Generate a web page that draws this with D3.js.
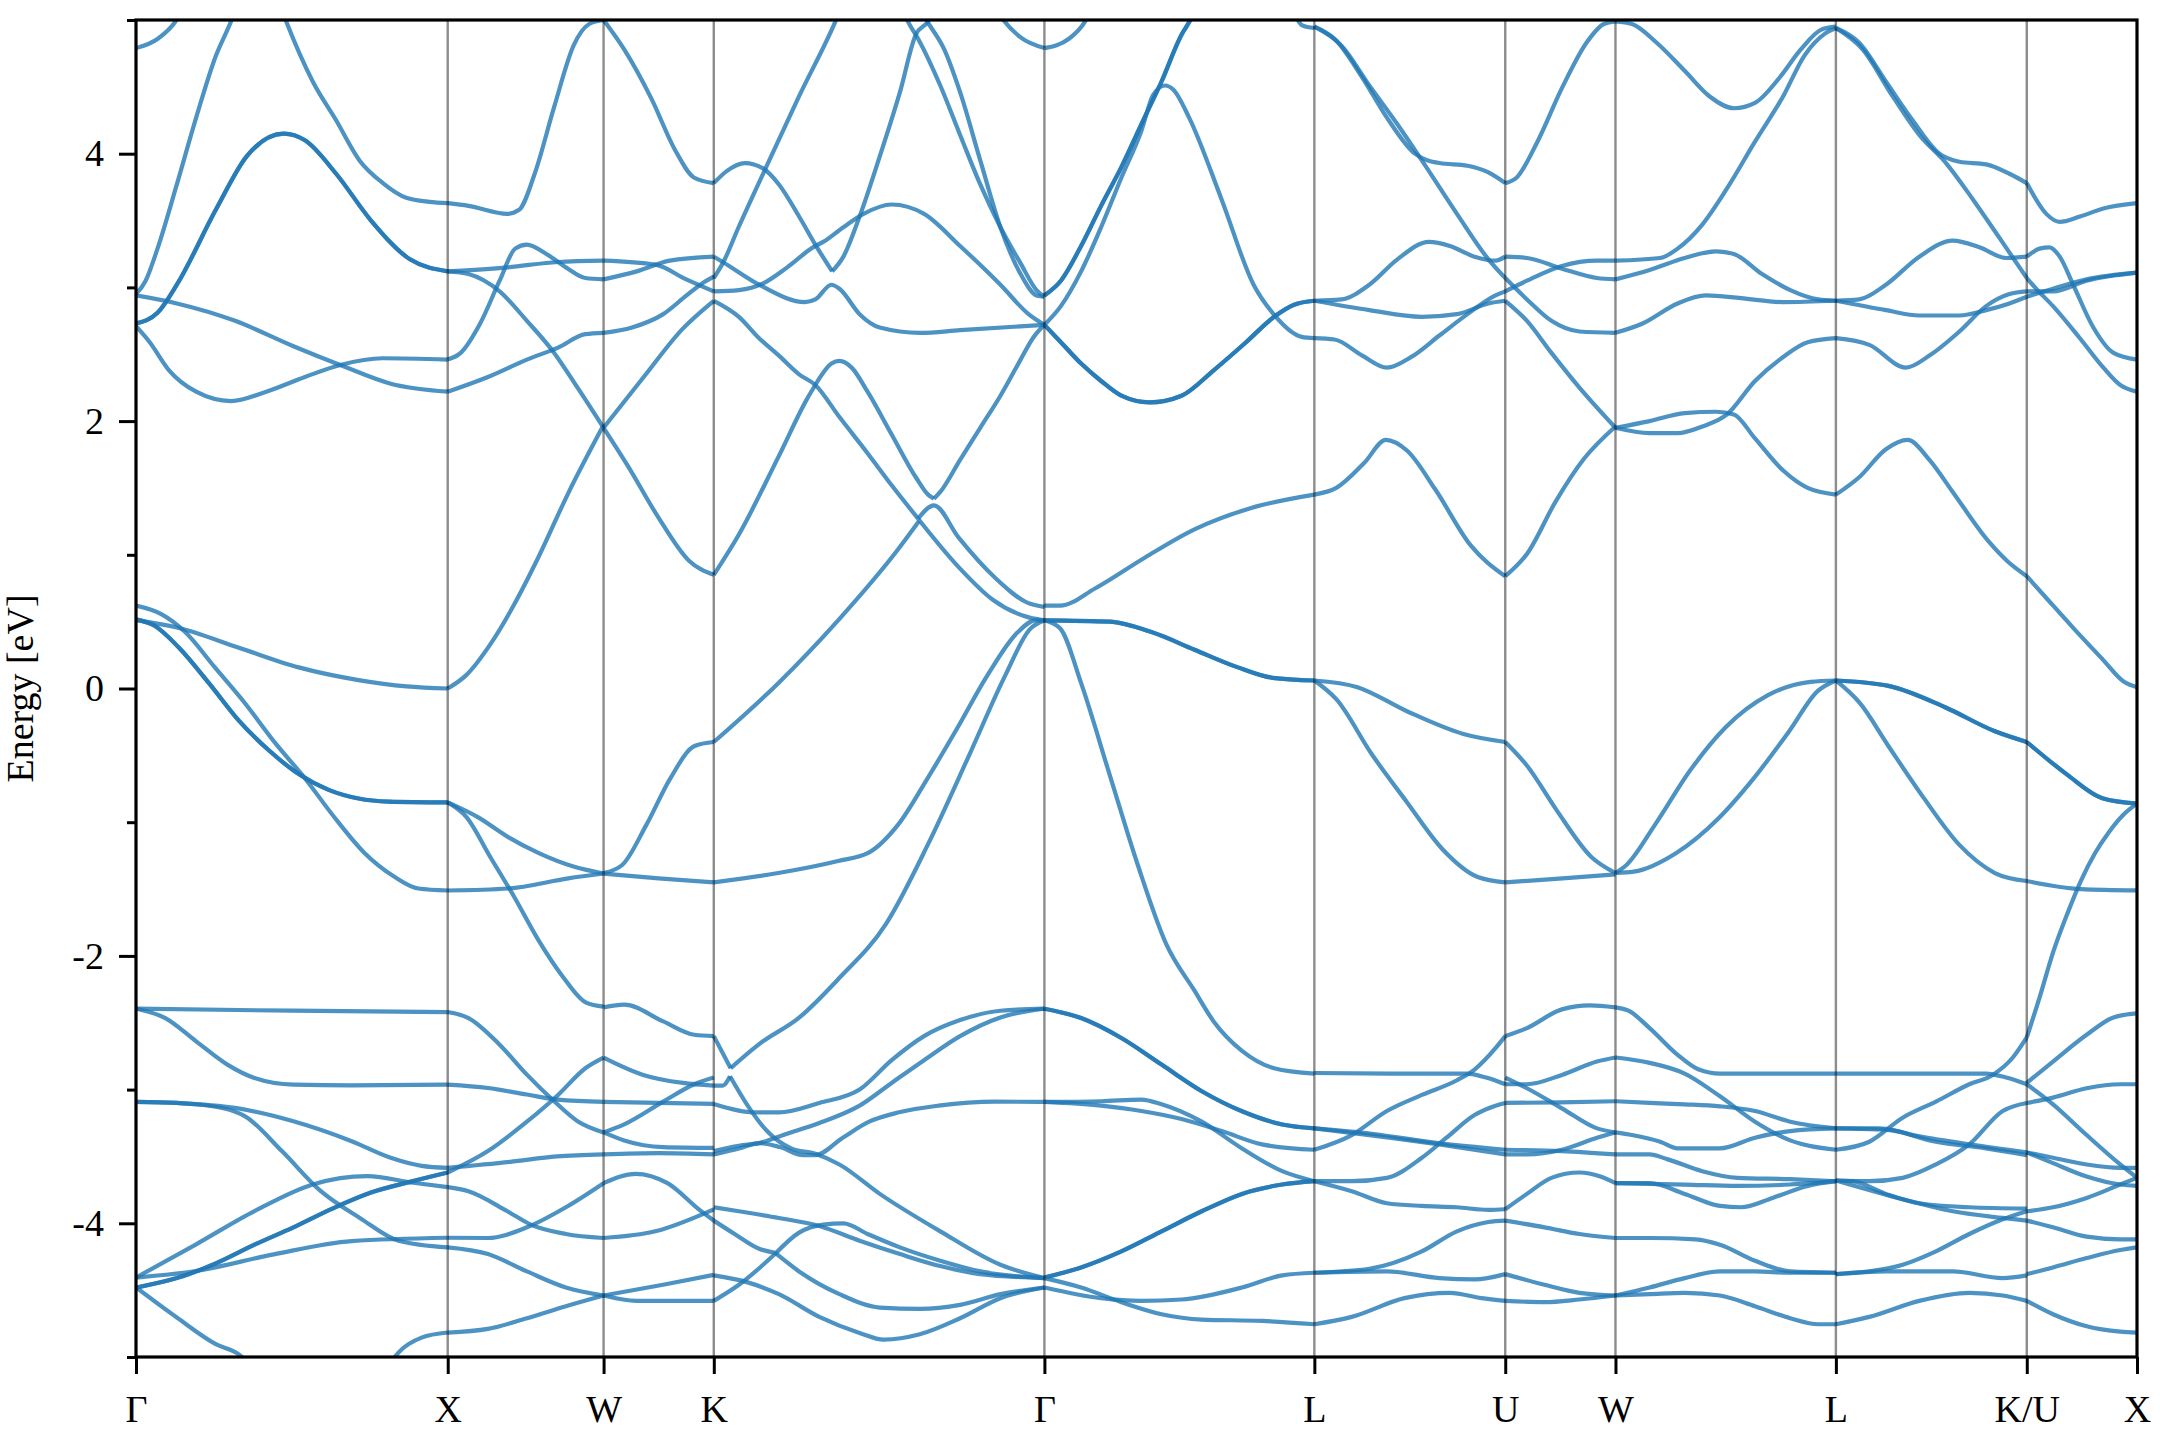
<!DOCTYPE html>
<html><head><meta charset="utf-8">
<script src="https://cdn.jsdelivr.net/npm/d3@7"></script>
<style>body{margin:0;background:#fff} svg{display:block}</style>
</head><body>
<svg id="chart" width="2160" height="1440"></svg>
<script>
// High-symmetry path (fcc), cumulative k distance
const kLabels = ["Γ","X","W","K","Γ","L","U","W","L","K/U","X"];
const kDist = [0, 1, 1.5, 1.8536, 2.9142, 3.7802, 4.3926, 4.7462, 5.4533, 6.0657, 6.4193];
const yMajorTicks = [-4, -2, 0, 2, 4];
const yMinorTicks = [-5, -3, -1, 1, 3, 5];

// Each band: [t (fraction along segment), Energy eV]
// ---- Γ → X ----
const gxHump = [[0,2.73],[0.069,2.81],[0.131,3.02],[0.256,3.58],[0.355,3.98],[0.474,4.15],[0.542,4.10],[0.642,3.85],[0.754,3.50],[0.879,3.21],[1,3.12]];
const gxM2 = [[0,0.518],[0.061,0.468],[0.138,0.305],[0.234,0.04],[0.33,-0.241],[0.426,-0.462],[0.522,-0.64],[0.618,-0.758],[0.714,-0.823],[0.81,-0.846],[1,-0.852]];
const gxL5 = [[0,-4.481],[0.131,-4.41],[0.256,-4.30],[0.38,-4.16],[0.505,-4.03],[0.63,-3.89],[0.754,-3.77],[0.879,-3.69],[1,-3.62]];
const bandsGX = [
  [[0,4.79],[0.07,4.86],[0.13,5.0],[0.2,5.35]],
  [[0,2.95],[0.031,3.05],[0.069,3.29],[0.131,3.77],[0.193,4.27],[0.256,4.73],[0.305,4.99],[0.343,5.23]],
  [[0.443,5.23],[0.48,5.0],[0.567,4.54],[0.642,4.25],[0.717,3.95],[0.792,3.78],[0.867,3.67],[0.941,3.64],[1,3.63]],
  gxHump, gxHump,
  [[0,2.94],[0.131,2.88],[0.318,2.75],[0.505,2.56],[0.655,2.42],[0.817,2.28],[1,2.22]],
  [[0,2.71],[0.044,2.59],[0.106,2.38],[0.193,2.22],[0.305,2.15],[0.418,2.22],[0.542,2.33],[0.655,2.42],[0.792,2.47],[1,2.46]],
  [[0,0.62],[0.081,0.556],[0.157,0.424],[0.253,0.158],[0.349,-0.108],[0.445,-0.403],[0.541,-0.669],[0.637,-0.965],[0.733,-1.23],[0.829,-1.408],[0.906,-1.496],[1,-1.511]],
  gxM2, gxM2,
  [[0,0.512],[0.138,0.453],[0.33,0.305],[0.522,0.158],[0.714,0.063],[0.868,0.016],[1,0.0]],
  [[0,-2.395],[0.5,-2.41],[1,-2.42]],
  [[0,-2.395],[0.094,-2.465],[0.193,-2.639],[0.293,-2.813],[0.38,-2.913],[0.505,-2.963],[0.692,-2.968],[1,-2.963]],
  [[0,-3.092],[0.131,-3.10],[0.318,-3.137],[0.505,-3.237],[0.692,-3.386],[0.817,-3.51],[0.916,-3.57],[1,-3.585]],
  [[0,-3.092],[0.131,-3.10],[0.28,-3.14],[0.35,-3.20],[0.468,-3.46],[0.593,-3.76],[0.718,-3.96],[0.842,-4.13],[1,-4.18]],
  [[0,-4.406],[0.193,-4.157],[0.38,-3.909],[0.567,-3.709],[0.742,-3.647],[0.89,-3.697],[1,-3.73]],
  gxL5, gxL5,
  [[0,-4.406],[0.193,-4.357],[0.442,-4.232],[0.692,-4.133],[1,-4.108]],
  [[0,-4.48],[0.131,-4.705],[0.256,-4.904],[0.33,-4.98],[0.4,-5.15]],
  [[0.8,-5.1],[0.842,-4.967],[0.916,-4.855],[1,-4.817]]
];
// ---- X → W ----
const bandsXW = [
  [[0,3.63],[0.133,3.61],[0.383,3.55],[0.458,3.58],[0.558,3.85],[0.683,4.35],[0.808,4.81],[0.908,4.97],[1,5.0]],
  [[0,3.12],[0.383,3.15],[0.708,3.19],[1,3.2]],
  [[0,3.12],[0.133,3.10],[0.333,2.97],[0.508,2.75],[0.683,2.51],[0.833,2.25],[1,1.95]],
  [[0,2.46],[0.083,2.51],[0.208,2.73],[0.333,3.05],[0.433,3.29],[0.508,3.32],[0.633,3.25],[0.758,3.15],[0.883,3.07],[1,3.06]],
  [[0,2.22],[0.258,2.33],[0.508,2.46],[0.708,2.55],[0.883,2.65],[1,2.66]],
  [[0,0.0],[0.119,0.10],[0.273,0.33],[0.427,0.63],[0.581,0.98],[0.773,1.46],[1,1.97]],
  [[0,-0.852],[0.196,-0.964],[0.388,-1.112],[0.581,-1.23],[0.812,-1.334],[1,-1.384]],
  [[0,-0.852],[0.119,-0.96],[0.273,-1.26],[0.427,-1.56],[0.581,-1.88],[0.735,-2.15],[0.888,-2.35],[1,-2.38]],
  [[0,-1.511],[0.388,-1.496],[0.773,-1.42],[1,-1.384]],
  [[0,-2.42],[0.133,-2.465],[0.333,-2.664],[0.508,-2.888],[0.683,-3.087],[0.833,-3.236],[1,-3.32]],
  [[0,-2.963],[0.258,-2.988],[0.508,-3.037],[0.708,-3.075],[1,-3.092]],
  [[0,-3.62],[0.258,-3.46],[0.508,-3.24],[0.708,-3.04],[0.883,-2.84],[1,-2.76]],
  [[0,-3.73],[0.133,-3.76],[0.383,-3.91],[0.533,-4.01],[0.758,-4.08],[1,-4.11]],
  [[0,-3.585],[0.4,-3.54],[0.7,-3.50],[1,-3.485]],
  [[0,-4.108],[0.258,-4.11],[0.508,-4.03],[0.758,-3.88],[1,-3.70]],
  [[0,-4.18],[0.258,-4.23],[0.508,-4.36],[0.758,-4.48],[1,-4.54]],
  [[0,-4.817],[0.258,-4.79],[0.508,-4.71],[0.758,-4.62],[1,-4.54]]
];
// ---- W → K ----
const bandsWK = [
  [[0,5.0],[0.187,4.78],[0.435,4.41],[0.647,4.03],[0.823,3.82],[1,3.78]],
  [[0,3.2],[0.47,3.17],[0.75,3.06],[1,2.97]],
  [[0,3.06],[0.3,3.12],[0.6,3.20],[1,3.23]],
  [[0,2.66],[0.258,2.70],[0.541,2.80],[0.753,2.94],[0.894,3.03],[1,3.08]],
  [[0,1.95],[0.364,2.33],[0.717,2.69],[1,2.90]],
  [[0,1.95],[0.224,1.66],[0.497,1.28],[0.77,0.96],[1,0.85]],
  [[0,-1.38],[0.169,-1.32],[0.388,-1.02],[0.607,-0.67],[0.825,-0.43],[1,-0.40]],
  [[0,-1.384],[0.5,-1.42],[1,-1.45]],
  [[0,-2.385],[0.187,-2.365],[0.541,-2.49],[0.823,-2.59],[1,-2.60]],
  [[0,-2.76],[0.36,-2.89],[0.72,-2.95],[1,-2.97]],
  [[0,-3.092],[0.5,-3.10],[1,-3.107]],
  [[0,-3.32],[0.187,-3.26],[0.541,-3.09],[0.823,-2.96],[1,-2.91]],
  [[0,-3.32],[0.187,-3.38],[0.541,-3.43],[1,-3.436]],
  [[0,-3.485],[0.5,-3.475],[1,-3.485]],
  [[0,-3.70],[0.29,-3.63],[0.58,-3.70],[0.87,-3.90],[1,-3.98]],
  [[0,-4.11],[0.47,-4.06],[1,-3.896]],
  [[0,-4.54],[0.54,-4.46],[1,-4.386]],
  [[0,-4.54],[0.3,-4.58],[1,-4.58]]
];
// ---- K → Γ ----
const bandsKG = [
  [[0,3.07],[0.027,3.18],[0.075,3.45],[0.149,3.85],[0.258,4.43],[0.368,4.99],[0.4,5.18]],
  [[0,3.78],[0.039,3.87],[0.094,3.93],[0.149,3.89],[0.197,3.77],[0.258,3.53],[0.307,3.32],[0.358,3.12]],
  [[0.358,3.12],[0.392,3.23],[0.441,3.53],[0.502,3.98],[0.563,4.46],[0.611,4.89],[0.648,4.99],[0.67,5.1]],
  [[0.62,5.1],[0.648,4.98],[0.697,4.78],[0.745,4.46],[0.806,3.95],[0.867,3.45],[0.928,3.10],[0.976,2.94],[1,2.93]],
  [[0.56,5.15],[0.587,4.99],[0.618,4.86],[0.685,4.51],[0.745,4.14],[0.806,3.77],[0.867,3.45],[0.928,3.18],[0.976,2.98],[1,2.93]],
  [[0,2.97],[0.076,2.98],[0.149,3.03],[0.222,3.15],[0.307,3.31],[0.331,3.34],[0.392,3.45],[0.453,3.55],[0.538,3.62],[0.636,3.55],[0.745,3.31],[0.867,3.02],[0.952,2.80],[1,2.72]],
  [[0,3.23],[0.027,3.19],[0.137,3.02],[0.276,2.89],[0.307,2.91],[0.356,3.02],[0.38,2.99],[0.441,2.80],[0.502,2.70],[0.624,2.66],[0.745,2.68],[1,2.72]],
  [[0.85,5.1],[0.879,4.99],[0.928,4.87],[1,4.79]],
  [[0,0.85],[0.0755,1.15],[0.197,1.74],[0.283,2.17],[0.307,2.27]],
  [[0.307,2.27],[0.356,2.43],[0.38,2.45],[0.417,2.40],[0.465,2.22],[0.538,1.90],[0.611,1.58],[0.648,1.45],[0.666,1.42]],
  [[0.666,1.42],[0.685,1.47],[0.745,1.71],[0.806,1.95],[0.867,2.19],[0.928,2.46],[0.965,2.62],[1,2.72]],
  [[0,2.90],[0.076,2.78],[0.137,2.62],[0.197,2.49],[0.258,2.35],[0.307,2.27],[0.38,2.03],[0.465,1.76],[0.538,1.52],[0.618,1.27]],
  [[0,-0.40],[0.195,0.04],[0.376,0.51],[0.557,1.04],[0.62,1.25]],
  [[0.618,1.27],[0.74,0.91],[0.846,0.66],[0.955,0.53],[1,0.51]],
  [[0.618,1.27],[0.666,1.37],[0.74,1.13],[0.85,0.83],[0.95,0.64],[1,0.61]],
  [[0,-1.45],[0.195,-1.38],[0.376,-1.29],[0.467,-1.23],[0.557,-1.02],[0.647,-0.67],[0.738,-0.29],[0.828,0.10],[0.919,0.42],[0.973,0.51],[1,0.51]],
  [[0,-2.60],[0.051,-2.84]],
  [[0.051,-2.84],[0.137,-2.66],[0.259,-2.46],[0.376,-2.175],[0.521,-1.76],[0.647,-1.17],[0.774,-0.49],[0.882,0.10],[0.955,0.44],[1,0.51]],
  [[0,-2.97],[0.027,-2.97],[0.049,-2.90]],
  [[0.049,-2.90],[0.1,-3.11],[0.161,-3.31],[0.234,-3.44],[0.307,-3.48],[0.38,-3.56],[0.502,-3.78],[0.685,-4.06],[0.867,-4.31],[1,-4.41]],
  [[0,-3.107],[0.124,-3.17],[0.197,-3.17],[0.319,-3.10],[0.441,-3.0],[0.538,-2.78],[0.636,-2.60],[0.745,-2.48],[0.867,-2.41],[1,-2.395]],
  [[0,-3.46],[0.076,-3.42],[0.137,-3.40],[0.222,-3.33],[0.319,-3.25],[0.441,-3.12],[0.538,-2.95],[0.636,-2.78],[0.745,-2.60],[0.867,-2.46],[1,-2.395]],
  [[0,-3.485],[0.076,-3.44],[0.137,-3.40],[0.2,-3.43],[0.27,-3.49],[0.307,-3.49],[0.39,-3.36],[0.47,-3.24],[0.56,-3.17],[0.68,-3.12],[0.85,-3.09],[1,-3.092]],
  [[0,-3.88],[0.076,-3.91],[0.197,-3.96],[0.319,-4.02],[0.441,-4.13],[0.563,-4.23],[0.685,-4.32],[0.806,-4.38],[1,-4.41]],
  [[0,-3.98],[0.063,-4.08],[0.137,-4.19],[0.185,-4.22]],
  [[0.185,-4.22],[0.258,-4.36],[0.38,-4.53],[0.502,-4.63],[0.624,-4.64],[0.745,-4.61],[0.867,-4.53],[1,-4.48]],
  [[0,-4.39],[0.1,-4.44],[0.197,-4.53],[0.319,-4.70],[0.441,-4.82],[0.514,-4.87],[0.623,-4.83],[0.745,-4.71],[0.867,-4.56],[1,-4.48]],
  [[0,-4.58],[0.076,-4.46],[0.185,-4.23]],
  [[0.185,-4.23],[0.258,-4.07],[0.331,-4.01],[0.392,-4.0],[0.465,-4.08],[0.563,-4.18],[0.685,-4.28],[0.806,-4.36],[1,-4.41]]
];
// ---- Γ → L ----
const glSteep = [[0,2.94],[0.061,3.05],[0.136,3.31],[0.21,3.61],[0.285,3.90],[0.359,4.22],[0.434,4.54],[0.508,4.89],[0.538,4.99],[0.57,5.12]];
const glDip = [[0,2.72],[0.061,2.59],[0.136,2.43],[0.21,2.30],[0.285,2.19],[0.389,2.14],[0.508,2.19],[0.627,2.38],[0.747,2.59],[0.851,2.78],[0.925,2.87],[1,2.90]];
const glTop = [[0,0.51],[0.241,0.50],[0.399,0.42],[0.556,0.29],[0.714,0.16],[0.845,0.08],[1,0.06]];
const glD1 = [[0,-2.395],[0.136,-2.465],[0.285,-2.614],[0.434,-2.813],[0.583,-3.012],[0.732,-3.162],[0.881,-3.261],[1,-3.29]];
const glD2 = [[0,-4.406],[0.136,-4.33],[0.285,-4.21],[0.434,-4.06],[0.583,-3.91],[0.732,-3.78],[0.881,-3.71],[1,-3.685]];
const bandsGL = [
  [[0,4.79],[0.091,4.86],[0.151,4.99],[0.2,5.2]],
  glSteep, glSteep,
  [[0,2.72],[0.061,2.86],[0.136,3.12],[0.21,3.45],[0.285,3.82],[0.359,4.17],[0.403,4.44],[0.447,4.51],[0.477,4.48],[0.536,4.27],[0.656,3.66],[0.775,3.02],[0.849,2.80],[0.953,2.63],[1,2.62]],
  glDip, glDip,
  [[0.925,5.05],[0.955,4.96],[1,4.94]],
  [[0,0.62],[0.058,0.62],[0.189,0.75],[0.373,0.98],[0.556,1.19],[0.766,1.35],[1,1.45]],
  glTop, glTop,
  [[0,0.51],[0.058,0.45],[0.136,0.04],[0.241,-0.64],[0.346,-1.32],[0.451,-1.91],[0.556,-2.26],[0.627,-2.49],[0.732,-2.71],[0.851,-2.84],[1,-2.88]],
  glD1, glD1,
  [[0,-3.092],[0.21,-3.087],[0.359,-3.075],[0.434,-3.11],[0.583,-3.24],[0.732,-3.44],[0.881,-3.61],[1,-3.685]],
  [[0,-3.092],[0.21,-3.12],[0.359,-3.16],[0.508,-3.22],[0.657,-3.31],[0.806,-3.41],[1,-3.45]],
  glD2, glD2,
  [[0,-4.48],[0.21,-4.56],[0.359,-4.58],[0.508,-4.57],[0.732,-4.48],[0.881,-4.39],[1,-4.37]],
  [[0,-4.41],[0.136,-4.48],[0.285,-4.59],[0.434,-4.68],[0.583,-4.72],[0.806,-4.73],[1,-4.755]]
];
// ---- L → U ----
const bandsLU = [
  [[0,4.95],[0.105,4.86],[0.251,4.57],[0.38,4.27],[0.527,4.00],[0.655,3.93],[0.802,3.91],[0.912,3.86],[1,3.78]],
  [[0,4.95],[0.141,4.81],[0.288,4.51],[0.435,4.22],[0.563,3.95],[0.747,3.55],[0.912,3.21],[1,3.07]],
  [[0,2.90],[0.141,2.91],[0.288,3.02],[0.435,3.21],[0.6,3.34],[0.71,3.31],[0.839,3.23],[0.949,3.20],[1,3.23]],
  [[0,2.90],[0.288,2.83],[0.563,2.78],[0.747,2.80],[0.912,2.88],[1,2.90]],
  [[0,2.62],[0.105,2.61],[0.251,2.49],[0.38,2.40],[0.508,2.48],[0.655,2.64],[0.802,2.80],[0.949,2.94],[1,2.97]],
  [[0,1.45],[0.115,1.50],[0.263,1.69],[0.374,1.86],[0.485,1.78],[0.633,1.49],[0.819,1.07],[1,0.84]],
  [[0,0.06],[0.226,0.01],[0.485,-0.17],[0.781,-0.34],[1,-0.40]],
  [[0,0.06],[0.115,-0.08],[0.3,-0.49],[0.485,-0.85],[0.67,-1.20],[0.856,-1.41],[1,-1.45]],
  [[0,-2.876],[0.5,-2.88],[0.8,-2.88],[0.9,-2.91],[1,-2.96]],
  [[0,-3.45],[0.196,-3.34],[0.38,-3.16],[0.563,-3.04],[0.747,-2.93],[0.839,-2.85],[0.949,-2.69],[1,-2.60]],
  [[0,-3.29],[0.288,-3.34],[0.655,-3.41],[1,-3.485]],
  [[0,-3.29],[0.3,-3.33],[0.65,-3.40],[1,-3.45]],
  [[0,-3.685],[0.196,-3.685],[0.38,-3.66],[0.563,-3.51],[0.692,-3.36],[0.839,-3.19],[0.949,-3.12],[1,-3.10]],
  [[0,-3.685],[0.196,-3.76],[0.38,-3.85],[0.563,-3.87],[0.747,-3.88],[0.912,-3.90],[1,-3.895]],
  [[0,-4.37],[0.288,-4.34],[0.563,-4.21],[0.747,-4.06],[0.912,-3.99],[1,-3.98]],
  [[0,-4.37],[0.38,-4.36],[0.655,-4.41],[0.839,-4.42],[1,-4.38]],
  [[0,-4.755],[0.196,-4.70],[0.472,-4.56],[0.71,-4.52],[0.875,-4.56],[1,-4.58]]
];
// ---- U → W ----
const bandsUW = [
  [[0,3.78],[0.102,3.82],[0.292,4.09],[0.514,4.49],[0.737,4.83],[0.895,4.97],[1,4.99]],
  [[0,3.07],[0.197,2.91],[0.419,2.75],[0.673,2.67],[1,2.66]],
  [[0,3.23],[0.197,3.22],[0.514,3.14],[0.832,3.07],[1,3.06]],
  [[0,2.97],[0.197,3.05],[0.514,3.16],[0.832,3.20],[1,3.20]],
  [[0,2.90],[0.197,2.75],[0.419,2.51],[0.673,2.25],[1,1.95]],
  [[0,0.84],[0.2,1.01],[0.458,1.40],[0.716,1.72],[1,1.96]],
  [[0,-0.40],[0.2,-0.58],[0.458,-0.90],[0.781,-1.26],[1,-1.38]],
  [[0,-1.45],[0.52,-1.42],[1,-1.39]],
  [[0,-2.60],[0.197,-2.54],[0.514,-2.40],[0.768,-2.37],[1,-2.385]],
  [[0,-2.96],[0.197,-2.96],[0.514,-2.89],[0.832,-2.79],[1,-2.76]],
  [[0,-2.91],[0.197,-2.99],[0.514,-3.14],[0.832,-3.29],[1,-3.32]],
  [[0,-3.10],[0.5,-3.095],[1,-3.087]],
  [[0,-3.45],[0.514,-3.46],[1,-3.485]],
  [[0,-3.485],[0.197,-3.485],[0.514,-3.45],[0.832,-3.36],[1,-3.32]],
  [[0,-3.895],[0.197,-3.78],[0.419,-3.66],[0.673,-3.62],[0.863,-3.65],[1,-3.70]],
  [[0,-3.98],[0.356,-4.03],[0.673,-4.08],[1,-4.11]],
  [[0,-4.38],[0.356,-4.46],[0.673,-4.52],[1,-4.54]],
  [[0,-4.58],[0.356,-4.59],[0.673,-4.57],[1,-4.54]]
];
// ---- W → L ----
const bandsWL = [
  [[0,4.99],[0.075,4.97],[0.187,4.83],[0.314,4.62],[0.426,4.43],[0.538,4.34],[0.633,4.38],[0.745,4.57],[0.841,4.78],[0.936,4.93],[1,4.95]],
  [[0,3.20],[0.203,3.22],[0.282,3.29],[0.394,3.47],[0.506,3.74],[0.633,4.09],[0.761,4.43],[0.856,4.73],[0.952,4.90],[1,4.94]],
  [[0,3.06],[0.155,3.13],[0.314,3.22],[0.458,3.27],[0.537,3.25],[0.665,3.10],[0.793,2.98],[0.92,2.91],[1,2.90]],
  [[0,2.66],[0.123,2.73],[0.282,2.88],[0.41,2.94],[0.569,2.92],[0.761,2.89],[1,2.90]],
  [[0,1.95],[0.155,2.00],[0.314,2.06],[0.458,2.07],[0.537,2.05],[0.633,1.87],[0.761,1.63],[0.872,1.50],[1,1.45]],
  [[0,1.95],[0.155,1.91],[0.282,1.91],[0.394,1.96],[0.506,2.05],[0.633,2.30],[0.761,2.48],[0.872,2.59],[1,2.62]],
  [[0,-1.38],[0.05,-1.32],[0.179,-1.02],[0.34,-0.61],[0.5,-0.29],[0.692,-0.05],[0.885,0.05],[1,0.06]],
  [[0,-1.38],[0.083,-1.37],[0.276,-1.23],[0.468,-0.97],[0.628,-0.67],[0.788,-0.32],[0.917,-0.02],[1,0.06]],
  [[0,-2.385],[0.059,-2.41],[0.155,-2.54],[0.282,-2.74],[0.378,-2.85],[0.474,-2.88],[1,-2.88]],
  [[0,-2.76],[0.155,-2.80],[0.314,-2.88],[0.474,-3.05],[0.633,-3.24],[0.793,-3.38],[1,-3.45]],
  [[0,-3.087],[0.155,-3.10],[0.314,-3.11],[0.474,-3.125],[0.633,-3.16],[0.793,-3.24],[1,-3.29]],
  [[0,-3.32],[0.075,-3.34],[0.203,-3.39],[0.282,-3.44],[0.474,-3.44],[0.633,-3.36],[0.793,-3.31],[1,-3.29]],
  [[0,-3.485],[0.155,-3.485],[0.234,-3.52],[0.394,-3.61],[0.553,-3.66],[0.793,-3.67],[1,-3.685]],
  [[0,-3.70],[0.155,-3.70],[0.314,-3.78],[0.474,-3.87],[0.569,-3.88],[0.713,-3.81],[0.872,-3.72],[1,-3.685]],
  [[0,-3.70],[0.314,-3.71],[0.553,-3.72],[0.793,-3.71],[1,-3.685]],
  [[0,-4.11],[0.155,-4.11],[0.362,-4.12],[0.474,-4.16],[0.633,-4.28],[0.793,-4.36],[1,-4.37]],
  [[0,-4.54],[0.155,-4.53],[0.314,-4.52],[0.474,-4.54],[0.633,-4.62],[0.793,-4.71],[0.92,-4.755],[1,-4.755]],
  [[0,-4.54],[0.155,-4.48],[0.314,-4.41],[0.474,-4.36],[0.633,-4.36],[0.793,-4.37],[1,-4.37]]
];
// ---- L → K/U ----
const lkTop = [[0,0.06],[0.275,0.02],[0.572,-0.14],[0.833,-0.32],[1,-0.40]];
const bandsLK = [
  [[0,4.94],[0.122,4.83],[0.262,4.54],[0.402,4.25],[0.542,4.00],[0.647,3.94],[0.787,3.92],[0.909,3.85],[1,3.78]],
  [[0,4.94],[0.14,4.78],[0.297,4.43],[0.437,4.14],[0.577,3.93],[0.717,3.66],[0.857,3.37],[0.962,3.15],[1,3.07]],
  [[0,2.90],[0.122,2.91],[0.262,3.02],[0.437,3.23],[0.612,3.35],[0.752,3.30],[0.892,3.22],[1,3.23]],
  [[0,2.90],[0.262,2.83],[0.437,2.79],[0.647,2.79],[0.787,2.83],[0.909,2.88],[1,2.93]],
  [[0,2.62],[0.175,2.57],[0.367,2.40],[0.49,2.49],[0.647,2.67],[0.787,2.86],[0.909,2.95],[1,2.97]],
  [[0,1.45],[0.122,1.58],[0.262,1.79],[0.376,1.86],[0.49,1.71],[0.612,1.47],[0.8,1.10],[0.9,0.95],[1,0.84]],
  lkTop, lkTop,
  [[0,0.06],[0.126,-0.11],[0.275,-0.43],[0.461,-0.82],[0.647,-1.17],[0.833,-1.38],[1,-1.44]],
  [[0,-2.88],[0.437,-2.88],[0.787,-2.88],[0.892,-2.91],[1,-2.96]],
  [[0,-3.45],[0.175,-3.39],[0.35,-3.21],[0.524,-3.09],[0.699,-2.96],[0.822,-2.89],[0.927,-2.76],[1,-2.61]],
  [[0,-3.29],[0.262,-3.30],[0.437,-3.35],[0.699,-3.41],[1,-3.47]],
  [[0,-3.29],[0.227,-3.29],[0.524,-3.39],[0.787,-3.44],[1,-3.49]],
  [[0,-3.68],[0.175,-3.685],[0.35,-3.66],[0.524,-3.56],[0.699,-3.41],[0.874,-3.16],[1,-3.10]],
  [[0,-3.68],[0.087,-3.685],[0.262,-3.78],[0.437,-3.85],[0.699,-3.88],[1,-3.89]],
  [[0,-3.68],[0.35,-3.82],[0.612,-3.91],[0.874,-3.96],[1,-3.98]],
  [[0,-4.38],[0.262,-4.36],[0.612,-4.36],[0.874,-4.41],[1,-4.39]],
  [[0,-4.38],[0.175,-4.36],[0.35,-4.31],[0.524,-4.21],[0.699,-4.08],[0.874,-3.97],[1,-3.91]],
  [[0,-4.755],[0.175,-4.70],[0.437,-4.58],[0.699,-4.52],[0.874,-4.54],[1,-4.58]]
];
// ---- K/U → X ----
const kxMid = [[0,-0.40],[0.36,-0.64],[0.686,-0.82],[1,-0.86]];
const bandsKX = [
  [[0,3.78],[0.177,3.55],[0.299,3.49],[0.482,3.53],[0.695,3.59],[1,3.63]],
  [[0,3.07],[0.085,2.99],[0.238,2.86],[0.482,2.62],[0.695,2.40],[0.848,2.27],[1,2.22]],
  [[0,3.23],[0.116,3.29],[0.207,3.30],[0.299,3.23],[0.421,3.02],[0.604,2.70],[0.787,2.51],[1,2.46]],
  [[0,2.93],[0.238,2.99],[0.543,3.06],[1,3.11]],
  [[0,2.97],[0.238,2.97],[0.543,3.05],[1,3.11]],
  [[0,0.84],[0.163,0.69],[0.425,0.45],[0.686,0.22],[0.882,0.05],[1,0.01]],
  kxMid, kxMid,
  [[0,-1.44],[0.49,-1.50],[1,-1.51]],
  [[0,-2.61],[0.12,-2.3],[0.24,-1.97],[0.37,-1.68],[0.49,-1.44],[0.62,-1.23],[0.74,-1.08],[0.87,-0.95],[1,-0.86]],
  [[0,-2.95],[0.238,-2.79],[0.543,-2.59],[0.787,-2.46],[1,-2.43]],
  [[0,-3.10],[0.238,-3.06],[0.543,-2.99],[0.848,-2.96],[1,-2.96]],
  [[0,-2.96],[0.238,-3.11],[0.543,-3.34],[0.848,-3.56],[1,-3.66]],
  [[0,-3.47],[0.238,-3.51],[0.543,-3.56],[0.848,-3.585],[1,-3.585]],
  [[0,-3.47],[0.238,-3.55],[0.543,-3.65],[0.848,-3.71],[1,-3.72]],
  [[0,-3.91],[0.238,-3.88],[0.543,-3.81],[0.848,-3.71],[1,-3.66]],
  [[0,-3.98],[0.238,-4.03],[0.543,-4.10],[0.848,-4.12],[1,-4.12]],
  [[0,-4.38],[0.238,-4.33],[0.543,-4.26],[0.848,-4.20],[1,-4.18]],
  [[0,-4.58],[0.238,-4.68],[0.543,-4.77],[0.848,-4.81],[1,-4.817]]
];
const segmentBands = [bandsGX, bandsXW, bandsWK, bandsKG, bandsGL, bandsLU, bandsUW, bandsWL, bandsLK, bandsKX];

// ---------------- drawing ----------------
const pLeft = 136, pRight = 2137, pTop = 20, pBottom = 1357;
const svg = d3.select("#chart");
const x = d3.scaleLinear().domain([kDist[0], kDist[kDist.length - 1]]).range([pLeft, pRight]);
const y = d3.scaleLinear().domain([-5, 5]).range([pBottom, pTop]);
const FONT = "'Liberation Serif','Times New Roman',Times,serif";

svg.append("defs").append("clipPath").attr("id", "plotclip")
  .append("rect").attr("x", pLeft).attr("y", pTop).attr("width", pRight - pLeft).attr("height", pBottom - pTop);

const plot = svg.append("g").attr("clip-path", "url(#plotclip)");

segmentBands.forEach((bands, i) => {
  const k0 = kDist[i], k1 = kDist[i + 1];
  const line = d3.line()
    .x(d => x(k0 + d[0] * (k1 - k0)))
    .y(d => y(d[1]))
    .curve(d3.curveMonotoneX);
  plot.selectAll(null).data(bands).enter().append("path")
    .attr("d", line)
    .attr("fill", "none")
    .attr("stroke", "#1f77b4")
    .attr("stroke-opacity", 0.8)
    .attr("stroke-width", 4.2)
    .attr("stroke-linejoin", "round")
    .attr("stroke-linecap", "butt");
});

// vertical lines at high-symmetry points
plot.selectAll(null).data(kDist.slice(1, -1)).enter().append("line")
  .attr("x1", d => x(d)).attr("x2", d => x(d))
  .attr("y1", pTop).attr("y2", pBottom)
  .attr("stroke", "#000").attr("stroke-opacity", 0.45).attr("stroke-width", 2.4);

// axes
const yAxisMajor = d3.axisLeft(y).tickValues(yMajorTicks).tickSize(17).tickSizeOuter(0).tickPadding(15)
  .tickFormat(d => (d < 0 ? "-" + Math.abs(d) : String(d)));
const yAxisMinor = d3.axisLeft(y).tickValues(yMinorTicks).tickSize(9).tickSizeOuter(0).tickFormat("");
const xAxis = d3.axisBottom(x).tickValues(kDist).tickSize(17).tickSizeOuter(0).tickPadding(21)
  .tickFormat((d, i) => kLabels[i]);

function styleAxis(g) {
  g.select(".domain").remove();
  g.selectAll(".tick line").attr("stroke", "#000").attr("stroke-width", 3);
  g.selectAll(".tick text").attr("fill", "#000").style("font-family", FONT).style("font-size", "38px");
}
svg.append("g").attr("transform", `translate(${pLeft},0)`).call(yAxisMajor).call(styleAxis);
svg.append("g").attr("transform", `translate(${pLeft},0)`).call(yAxisMinor).call(styleAxis);
svg.append("g").attr("transform", `translate(0,${pBottom})`).call(xAxis).call(styleAxis);

// frame (spines)
svg.append("rect").attr("x", pLeft).attr("y", pTop).attr("width", pRight - pLeft).attr("height", pBottom - pTop)
  .attr("fill", "none").attr("stroke", "#000").attr("stroke-width", 3.2);

// y label
svg.append("text")
  .attr("transform", `translate(33,${(pTop + pBottom) / 2}) rotate(-90)`)
  .attr("text-anchor", "middle")
  .style("font-family", FONT).style("font-size", "38px").attr("fill", "#000")
  .text("Energy [eV]");
</script>
</body></html>
